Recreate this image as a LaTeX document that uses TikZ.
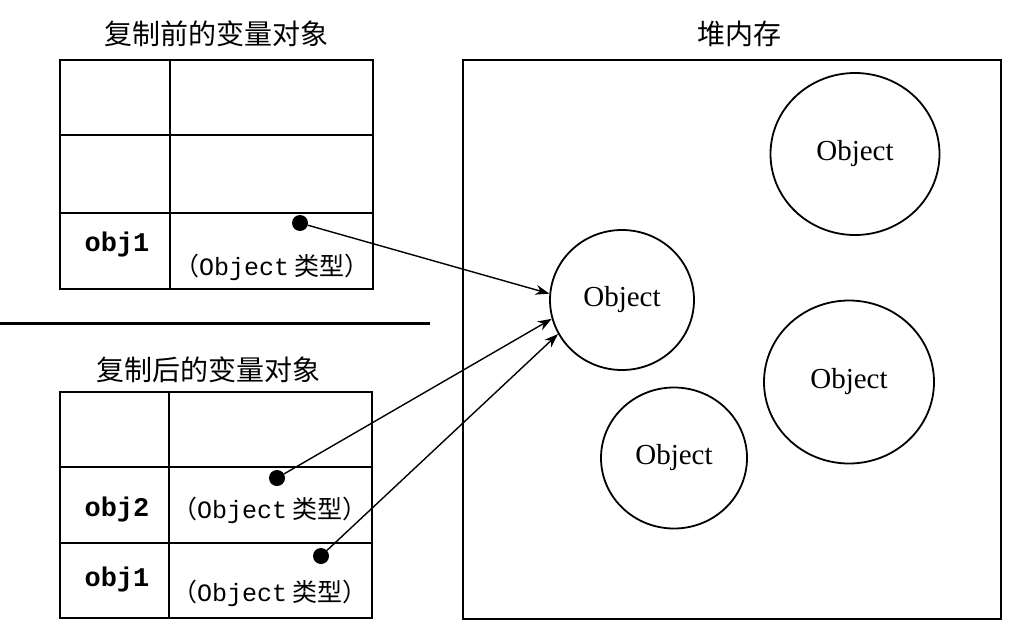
\documentclass[tikz,border=0pt]{standalone}
\usepackage{fontspec}
\setmainfont{Liberation Serif}
\setmonofont{Liberation Mono}
\newfontfamily\cjk{Noto Sans CJK SC}
\usetikzlibrary{shapes.geometric, arrows.meta, positioning}
\tikzstyle{cell}    = [rectangle, draw=black, line width=2pt, inner sep=0pt,
                       outer sep=0pt, anchor=north west]
\tikzstyle{heading} = [font=\cjk\fontsize{28}{28}\selectfont]
\tikzstyle{varname} = [font=\ttfamily\bfseries\fontsize{27}{27}\selectfont]
\tikzstyle{vartype} = [font=\cjk\fontsize{25}{25}\selectfont]
\tikzstyle{object}  = [ellipse, draw=black, line width=1.8pt, inner sep=0pt,
                       font=\fontsize{29}{29}\selectfont]
\tikzstyle{refdot}  = [circle, fill=black, inner sep=0pt, minimum size=16pt]
\tikzstyle{arrow}   = [line width=1.4pt, -{Stealth[length=14pt, width=10pt]}]

\begin{document}
\begin{tikzpicture}[x=1pt, y=-1pt]
    \useasboundingbox (0,0) rectangle (1016,626);

    % variable object before copy
    \node (t1)  [heading] at (216,34) {复制前的变量对象};
    \node (a1n) [cell, minimum width=110, minimum height=75] at (60,60)  {};
    \node (a1v) [cell, minimum width=203, minimum height=75] at (170,60) {};
    \node (a2n) [cell, minimum width=110, minimum height=78] at (60,135)  {};
    \node (a2v) [cell, minimum width=203, minimum height=78] at (170,135) {};
    \node (a3n) [cell, minimum width=110, minimum height=76] at (60,213)  {};
    \node (a3v) [cell, minimum width=203, minimum height=76] at (170,213) {};
    \node (n1)  [varname] at (117,245) {obj1};
    \node (v1)  [vartype] at (272,267) {（{\ttfamily Object} 类型）};
    \node (p1)  [refdot]  at (300,223) {};

    \draw [line width=3pt] (0,323) -- (430,323);

    % variable object after copy
    \node (t2)  [heading] at (208,370) {复制后的变量对象};
    \node (b1n) [cell, minimum width=109, minimum height=75] at (60,392)  {};
    \node (b1v) [cell, minimum width=203, minimum height=75] at (169,392) {};
    \node (b2n) [cell, minimum width=109, minimum height=76] at (60,467)  {};
    \node (b2v) [cell, minimum width=203, minimum height=76] at (169,467) {};
    \node (b3n) [cell, minimum width=109, minimum height=75] at (60,543)  {};
    \node (b3v) [cell, minimum width=203, minimum height=75] at (169,543) {};
    \node (n2)  [varname] at (117,510) {obj2};
    \node (v2)  [vartype] at (270,510) {（{\ttfamily Object} 类型）};
    \node (n3)  [varname] at (117,580) {obj1};
    \node (v3)  [vartype] at (270,593) {（{\ttfamily Object} 类型）};
    \node (p2)  [refdot]  at (277,478) {};
    \node (p3)  [refdot]  at (321,556) {};

    % heap
    \node (ht)   [heading] at (739,34) {堆内存};
    \node (heap) [cell, minimum width=538, minimum height=559] at (463,60) {};
    \node (o1) [object, minimum width=169, minimum height=162] at (855,154) {Object};
    \node (o2) [object, minimum width=144, minimum height=140] at (622,300) {Object};
    \node (o3) [object, minimum width=170, minimum height=163] at (849,382) {Object};
    \node (o4) [object, minimum width=146, minimum height=141] at (674,458) {Object};

    \draw [arrow] (p1) -- (o2.175);
    \draw [arrow] (p2) -- (o2.195);
    \draw [arrow] (p3) -- (o2.208);
\end{tikzpicture}
\end{document}
